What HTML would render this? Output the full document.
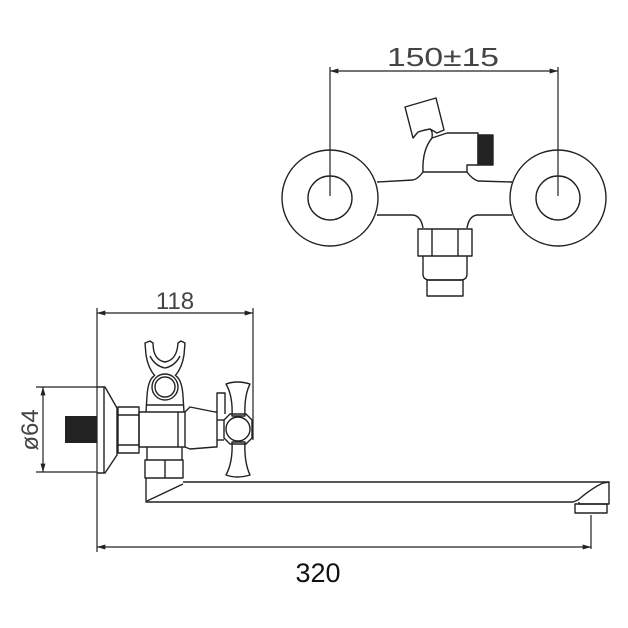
<!DOCTYPE html>
<html><head><style>html,body{margin:0;padding:0;background:#fff}svg{display:block}</style></head>
<body>
<svg width="628" height="628" viewBox="0 0 628 628" xmlns="http://www.w3.org/2000/svg">
<defs>
<marker id="a" viewBox="0 0 10 6" refX="10" refY="3" markerWidth="14" markerHeight="5" orient="auto-start-reverse" markerUnits="userSpaceOnUse"><path d="M0 0L10 3L0 6z" fill="#222"/></marker>
</defs>
<g fill="none" stroke="#222" stroke-width="1.4" stroke-linejoin="round">
<!-- TOP VIEW -->
<line x1="330" y1="71" x2="558" y2="71" marker-start="url(#a)" marker-end="url(#a)" stroke-width="1.2"/>
<line x1="330" y1="67" x2="330" y2="196" stroke-width="1.2"/>
<line x1="558" y1="67" x2="558" y2="196" stroke-width="1.2"/>
<circle cx="330" cy="198" r="48"/><circle cx="330" cy="198" r="22"/>
<circle cx="558" cy="198" r="48"/><circle cx="558" cy="198" r="22"/>
<path d="M377 182L413 180Q418 179 423 172M467 172Q472 179 478 181L512 182"/>
<path d="M377 215L413 215Q421 216 423 228M467 228Q469 216 477 215L512 215"/>
<path d="M423 172Q422 150 432 138L447 133L478 133L478 165L467 165L467 172Z"/>
<rect x="478" y="135" width="15" height="30" fill="#222"/>
<path d="M405 107L436 98L444 130L437 133L430 129Q424 130 418 132L413 138Z"/>
<path d="M430 129Q433 131 432 138"/>
<rect x="418" y="229" width="54" height="27"/>
<line x1="432" y1="229" x2="432" y2="256"/><line x1="458" y1="229" x2="458" y2="256"/>
<path d="M423 256L423 274Q423 280 430 280L460 280Q467 280 467 274L467 256"/>
<rect x="427" y="280" width="36" height="16"/>
<!-- BOTTOM VIEW dims -->
<line x1="97" y1="313" x2="253" y2="313" marker-start="url(#a)" marker-end="url(#a)" stroke-width="1.2"/>
<line x1="97" y1="308" x2="97" y2="552" stroke-width="1.2"/>
<line x1="253" y1="308" x2="253" y2="440" stroke-width="1.2"/>
<line x1="43" y1="387" x2="43" y2="472" marker-start="url(#a)" marker-end="url(#a)" stroke-width="1.2"/>
<line x1="36" y1="387" x2="97" y2="387" stroke-width="1.2"/>
<line x1="36" y1="472" x2="97" y2="472" stroke-width="1.2"/>
<line x1="97" y1="547" x2="591" y2="547" marker-start="url(#a)" marker-end="url(#a)" stroke-width="1.2"/>
<line x1="591" y1="515" x2="591" y2="549" stroke-width="1.2"/>
<!-- bottom view body -->
<rect x="65" y="416" width="32" height="27" fill="#222" stroke="none"/>
<path d="M97 387L105 387L117 408L117 455L105 473L97 473"/>
<line x1="104" y1="387" x2="104" y2="473"/>
<rect x="118" y="407" width="21" height="46"/>
<line x1="118" y1="415" x2="139" y2="415"/><line x1="118" y1="445" x2="139" y2="445"/>
<rect x="139" y="412" width="46" height="35"/>
<line x1="178" y1="412" x2="178" y2="447"/>
<path d="M185 412L190 407L215 412L217 412L217 447L215 447L190 449L185 447"/>
<path d="M217 412L217 393L225 393L225 414"/>
<line x1="217" y1="420" x2="224" y2="420"/><line x1="217" y1="440" x2="224" y2="440"/>
<path d="M230 414L246 414L252 420L252 438L246 444L230 444L224 438L224 420Z"/>
<circle cx="238" cy="429" r="12"/>
<path d="M226 384Q237 380 250 384Q244 396 245 416L232 416Q233 396 226 384Z"/>
<path d="M232 442L245 442Q244 462 250 475Q237 479 226 475Q233 462 232 442Z"/>
<!-- riser + holder -->
<path d="M146 412L147 396Q148 380 154 376M176 376Q182 380 183 396L184 412"/>
<line x1="147" y1="405" x2="183" y2="405"/>
<circle cx="165" cy="387" r="13"/><circle cx="165" cy="387" r="10"/>
<path d="M155 376Q148 368 146 355L145 343L150 341L153 343Q153 360 165 362Q177 360 178 343L181 341L185 343L184 355Q182 368 175 376"/>
<path d="M150 356Q155 366 165 368Q175 366 180 356"/>
<rect x="145" y="460" width="38" height="18"/>
<line x1="165" y1="460" x2="165" y2="478"/>
<line x1="147" y1="447" x2="147" y2="460"/><line x1="182" y1="447" x2="182" y2="460"/>
<!-- spout -->
<path d="M146 478L146 502L573 502L578 500Q592 488 603 483L609 482L609 504L579 504L579 502"/>
<line x1="183" y1="482" x2="609" y2="482"/>
<line x1="147" y1="501" x2="183" y2="484"/>
<rect x="575" y="504" width="32" height="9"/>
</g>
<g font-family="Liberation Sans, sans-serif" fill="#444" font-weight="normal">
<text x="443" y="66" font-size="26" text-anchor="middle" textLength="112" lengthAdjust="spacingAndGlyphs">150±15</text>
<text x="175" y="309" font-size="24" text-anchor="middle">118</text>
<text transform="translate(38,430) rotate(-90)" font-size="24" text-anchor="middle">ø64</text>
<text x="318" y="582" font-size="27" text-anchor="middle" fill="#111">320</text>
</g>
</svg>
</body></html>
